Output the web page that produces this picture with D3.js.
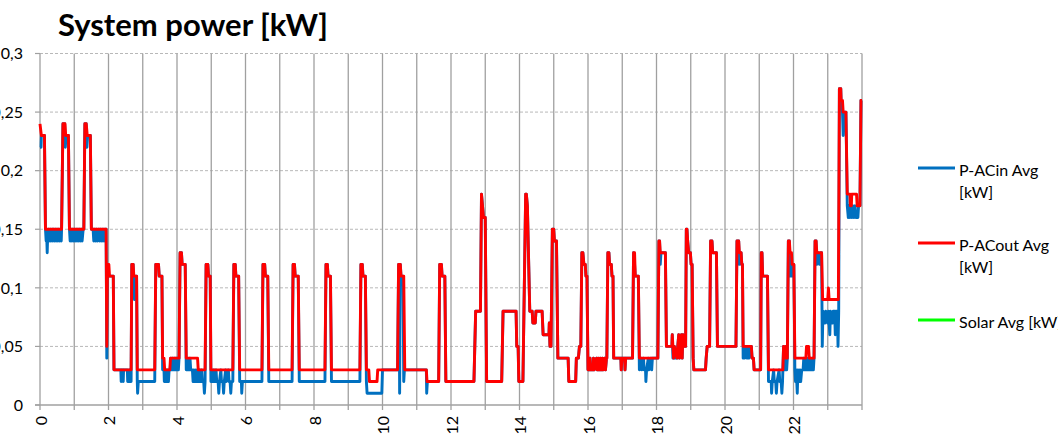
<!DOCTYPE html>
<html><head><meta charset="utf-8">
<script src="https://cdn.jsdelivr.net/npm/d3@7"></script>
<style>html,body{margin:0;padding:0;background:#fff;overflow:hidden}</style>
</head><body><svg id="c" width="1058" height="437"></svg>
<script>
const chartTitle = "System power [kW]";
const legendLines = [["P-ACin Avg", "[kW]"], ["P-ACout Avg", "[kW]"], ["Solar Avg [kW]"]];
const seriesColors = ["#0070C0", "#FF0000", "#00FF00"];
const yTicks = [0, 0.05, 0.1, 0.15, 0.2, 0.25, 0.3];
const yTickLabels = ["0", "0,05", "0,1", "0,15", "0,2", "0,25", "0,3"];
const xGridHours = [0,1,2,3,4,5,6,7,8,9,10,11,12,13,14,15,16,17,18,19,20,21,22,23,24];
const xTickHours = [0,2,4,6,8,10,12,14,16,18,20,22];
const xTickLabels = ["0","2","4","6","8","10","12","14","16","18","20","22"];

// P-ACout Avg [kW]  [hour, kW]
const pAcOut = [
[0.00,0.24],[0.04,0.23],[0.13,0.23],[0.16,0.15],
[0.63,0.15],[0.67,0.24],[0.73,0.24],[0.75,0.23],[0.83,0.23],[0.86,0.15],
[1.28,0.15],[1.31,0.24],[1.35,0.24],[1.38,0.23],[1.47,0.23],[1.50,0.15],
[1.93,0.15],[1.95,0.05],[1.97,0.12],[2.01,0.12],[2.03,0.11],[2.14,0.11],[2.16,0.03],
[2.66,0.03],[2.68,0.12],[2.72,0.12],[2.74,0.11],[2.82,0.11],[2.84,0.03],
[3.35,0.03],[3.38,0.12],[3.46,0.12],[3.48,0.11],[3.56,0.11],[3.58,0.04],[3.62,0.04],[3.64,0.03],[3.79,0.03],[3.81,0.04],
[4.06,0.04],[4.09,0.13],[4.13,0.13],[4.15,0.12],[4.24,0.12],[4.27,0.04],[4.60,0.04],[4.62,0.03],
[4.82,0.03],[4.85,0.12],[4.90,0.12],[4.92,0.11],[4.97,0.11],[4.99,0.03],
[5.63,0.03],[5.66,0.12],[5.70,0.12],[5.72,0.11],[5.80,0.11],[5.83,0.03],
[6.48,0.03],[6.51,0.12],[6.56,0.12],[6.58,0.11],[6.65,0.11],[6.68,0.03],
[7.36,0.03],[7.39,0.12],[7.43,0.12],[7.45,0.11],[7.54,0.11],[7.57,0.03],
[8.32,0.03],[8.35,0.12],[8.39,0.12],[8.41,0.11],[8.48,0.11],[8.51,0.03],
[9.34,0.03],[9.37,0.12],[9.41,0.12],[9.43,0.11],[9.50,0.11],[9.53,0.03],[9.60,0.03],[9.62,0.02],[9.84,0.02],[9.86,0.03],
[10.44,0.03],[10.47,0.12],[10.52,0.12],[10.54,0.11],[10.62,0.11],[10.65,0.03],
[11.28,0.03],[11.30,0.02],[11.64,0.02],[11.67,0.12],[11.72,0.12],[11.74,0.11],[11.82,0.11],[11.85,0.02],
[12.67,0.02],[12.72,0.08],[12.86,0.08],[12.89,0.18],[12.92,0.17],[12.95,0.16],[13.00,0.16],[13.04,0.02],
[13.48,0.02],[13.52,0.08],[13.90,0.08],[13.92,0.05],[13.96,0.05],[13.98,0.02],
[14.10,0.02],[14.18,0.18],[14.20,0.18],[14.23,0.17],[14.30,0.08],[14.37,0.08],[14.39,0.07],[14.46,0.07],[14.48,0.08],
[14.66,0.08],[14.69,0.06],[14.86,0.06],[14.87,0.07],[14.89,0.05],[14.92,0.05],[14.96,0.15],[15.00,0.15],[15.02,0.14],[15.08,0.14],[15.12,0.04],
[15.42,0.04],[15.44,0.02],[15.64,0.02],[15.66,0.04],[15.72,0.04],[15.75,0.05],[15.79,0.05],[15.82,0.13],[15.85,0.13],[15.88,0.12],[15.92,0.12],[15.94,0.11],[15.97,0.11],[16.00,0.03],
[16.05,0.03],[16.06,0.04],[16.08,0.03],[16.15,0.03],[16.16,0.04],[16.18,0.03],[16.25,0.04],[16.27,0.03],[16.30,0.04],[16.32,0.03],[16.36,0.04],[16.38,0.03],[16.42,0.04],[16.44,0.03],[16.49,0.04],[16.51,0.03],[16.54,0.04],
[16.55,0.04],[16.58,0.13],[16.61,0.13],[16.63,0.12],[16.68,0.12],[16.70,0.11],[16.73,0.11],[16.75,0.04],[16.96,0.04],[16.97,0.03],[16.99,0.04],[17.07,0.04],[17.08,0.03],[17.10,0.04],
[17.30,0.04],[17.33,0.13],[17.36,0.13],[17.38,0.11],[17.47,0.11],[17.50,0.04],
[18.04,0.04],[18.07,0.14],[18.09,0.14],[18.11,0.13],[18.26,0.13],[18.29,0.05],
[18.45,0.05],[18.46,0.06],[18.48,0.05],[18.50,0.04],[18.52,0.05],[18.60,0.04],[18.62,0.05],[18.65,0.06],[18.67,0.04],[18.70,0.05],[18.73,0.06],[18.75,0.04],[18.77,0.06],[18.80,0.05],
[18.85,0.05],[18.87,0.15],[18.89,0.15],[18.91,0.14],[18.94,0.13],[18.99,0.13],[19.01,0.12],[19.04,0.12],[19.07,0.04],[19.09,0.03],
[19.43,0.03],[19.45,0.04],[19.48,0.05],[19.55,0.05],[19.58,0.14],[19.62,0.14],[19.64,0.13],[19.75,0.13],[19.78,0.05],
[20.32,0.05],[20.35,0.14],[20.40,0.14],[20.42,0.13],[20.47,0.13],[20.49,0.12],[20.51,0.12],[20.53,0.05],[20.77,0.05],[20.79,0.04],[20.83,0.04],[20.85,0.03],
[21.04,0.03],[21.06,0.13],[21.08,0.13],[21.10,0.11],[21.24,0.11],[21.27,0.03],
[21.69,0.03],[21.71,0.05],[21.72,0.04],[21.76,0.04],[21.78,0.05],[21.80,0.04],[21.82,0.04],
[21.85,0.14],[21.88,0.14],[21.90,0.13],[21.94,0.13],[21.96,0.12],[22.01,0.12],[22.04,0.04],
[22.36,0.04],[22.38,0.05],[22.44,0.05],[22.46,0.04],[22.60,0.04],[22.63,0.14],[22.66,0.14],[22.68,0.13],[22.82,0.13],[22.85,0.09],
[23.00,0.09],[23.02,0.10],[23.04,0.09],[23.31,0.09],[23.34,0.27],[23.38,0.27],[23.39,0.26],[23.43,0.26],[23.45,0.25],[23.53,0.25],[23.57,0.18],
[23.65,0.18],[23.66,0.17],[23.69,0.17],[23.70,0.18],[23.84,0.18],[23.86,0.17],[23.94,0.17],[23.97,0.26],[24.00,0.26]
];

// P-ACin Avg [kW]  [hour, kW]
const pAcIn = [
[0.00,0.22],[0.03,0.22],[0.04,0.23],[0.13,0.23],[0.16,0.15],[0.18,0.14],[0.20,0.14],[0.21,0.13],[0.22,0.14],[0.25,0.15],[0.26,0.14],[0.30,0.15],[0.31,0.14],
[0.36,0.15],[0.37,0.14],[0.40,0.15],[0.42,0.14],[0.45,0.15],[0.47,0.14],[0.50,0.15],[0.52,0.14],[0.55,0.15],[0.57,0.14],[0.60,0.15],[0.62,0.14],
[0.63,0.15],[0.67,0.24],[0.72,0.24],[0.74,0.22],[0.76,0.23],[0.83,0.23],[0.86,0.15],[0.88,0.14],[0.91,0.15],[0.93,0.14],[0.96,0.15],[0.98,0.14],
[1.01,0.15],[1.03,0.14],[1.06,0.15],[1.08,0.14],[1.11,0.15],[1.13,0.14],[1.16,0.15],[1.18,0.14],[1.21,0.15],[1.23,0.14],[1.26,0.15],
[1.28,0.15],[1.31,0.24],[1.35,0.24],[1.37,0.22],[1.39,0.23],[1.47,0.23],[1.50,0.15],[1.55,0.15],[1.57,0.14],[1.60,0.15],[1.62,0.14],[1.65,0.15],[1.67,0.14],
[1.72,0.15],[1.74,0.14],[1.77,0.15],[1.79,0.14],[1.82,0.15],[1.84,0.14],[1.87,0.15],[1.89,0.14],[1.91,0.15],
[1.93,0.15],[1.95,0.04],[1.97,0.11],[2.03,0.11],[2.14,0.11],[2.16,0.03],
[2.36,0.03],[2.37,0.02],[2.38,0.03],[2.42,0.03],[2.43,0.02],[2.44,0.03],[2.55,0.03],[2.56,0.02],[2.60,0.02],[2.61,0.03],[2.63,0.02],[2.66,0.02],
[2.68,0.12],[2.72,0.12],[2.74,0.10],[2.76,0.09],[2.78,0.11],[2.82,0.11],[2.84,0.02],[2.85,0.01],[2.87,0.02],
[3.35,0.02],[3.38,0.12],[3.46,0.12],[3.48,0.11],[3.56,0.11],[3.58,0.03],[3.62,0.03],[3.63,0.02],[3.65,0.03],[3.67,0.02],[3.69,0.03],[3.71,0.02],[3.73,0.03],[3.75,0.02],[3.77,0.03],
[3.80,0.03],[3.82,0.04],[3.84,0.03],[3.87,0.04],[3.90,0.03],[3.92,0.04],[3.95,0.03],[3.97,0.04],[4.00,0.03],[4.02,0.04],[4.04,0.03],[4.06,0.04],
[4.09,0.13],[4.13,0.13],[4.15,0.12],[4.24,0.12],[4.27,0.03],[4.30,0.04],[4.32,0.03],[4.36,0.03],[4.38,0.04],[4.40,0.03],[4.45,0.03],[4.47,0.02],[4.49,0.03],
[4.53,0.02],[4.55,0.03],[4.58,0.02],[4.60,0.03],[4.62,0.02],[4.66,0.03],[4.68,0.02],[4.72,0.03],[4.74,0.02],[4.78,0.02],[4.80,0.01],[4.82,0.02],
[4.85,0.12],[4.90,0.12],[4.92,0.11],[4.97,0.11],[4.99,0.02],[5.02,0.03],[5.05,0.02],[5.08,0.03],[5.10,0.02],[5.14,0.03],[5.16,0.02],[5.20,0.02],[5.22,0.01],[5.24,0.02],
[5.28,0.03],[5.30,0.02],[5.34,0.02],[5.36,0.01],[5.38,0.02],[5.42,0.03],[5.44,0.02],[5.50,0.03],[5.52,0.02],[5.55,0.02],[5.57,0.01],[5.59,0.02],
[5.63,0.02],[5.66,0.12],[5.70,0.12],[5.72,0.11],[5.80,0.11],[5.83,0.02],[5.88,0.02],[5.89,0.01],[5.91,0.02],
[6.48,0.02],[6.51,0.12],[6.56,0.12],[6.58,0.11],[6.65,0.11],[6.68,0.02],
[7.36,0.02],[7.39,0.12],[7.43,0.12],[7.45,0.11],[7.54,0.11],[7.57,0.02],
[8.32,0.02],[8.35,0.12],[8.39,0.12],[8.41,0.11],[8.48,0.11],[8.51,0.02],
[9.34,0.02],[9.37,0.12],[9.41,0.12],[9.43,0.11],[9.50,0.11],[9.53,0.02],[9.55,0.01],[9.98,0.01],[10.00,0.03],
[10.44,0.03],[10.47,0.12],[10.49,0.09],[10.50,0.01],[10.52,0.12],[10.54,0.11],[10.60,0.11],[10.62,0.02],[10.64,0.03],
[11.28,0.03],[11.29,0.01],[11.31,0.02],[11.64,0.02],[11.67,0.12],[11.72,0.12],[11.74,0.11],[11.82,0.11],[11.85,0.02],
[12.67,0.02],[12.72,0.08],[12.86,0.08],[12.89,0.18],[12.92,0.17],[12.95,0.16],[13.00,0.16],[13.04,0.02],
[13.48,0.02],[13.52,0.08],[13.90,0.08],[13.92,0.05],[13.96,0.05],[13.98,0.02],
[14.10,0.02],[14.18,0.18],[14.20,0.18],[14.23,0.17],[14.30,0.08],[14.37,0.08],[14.39,0.07],[14.46,0.07],[14.48,0.08],
[14.66,0.08],[14.69,0.06],[14.86,0.06],[14.87,0.07],[14.89,0.05],[14.92,0.05],[14.96,0.15],[15.00,0.15],[15.02,0.14],[15.08,0.14],[15.12,0.04],
[15.42,0.04],[15.44,0.02],[15.64,0.02],[15.66,0.04],[15.72,0.04],[15.75,0.05],[15.79,0.05],[15.82,0.13],[15.85,0.13],[15.88,0.12],[15.92,0.12],[15.94,0.11],[15.97,0.11],[16.00,0.03],
[16.05,0.03],[16.06,0.04],[16.08,0.03],[16.15,0.03],[16.16,0.04],[16.18,0.03],[16.25,0.04],[16.27,0.03],[16.30,0.04],[16.32,0.03],[16.36,0.04],[16.38,0.03],[16.42,0.04],[16.44,0.03],[16.49,0.04],[16.51,0.03],[16.54,0.04],
[16.55,0.04],[16.58,0.13],[16.61,0.13],[16.63,0.12],[16.68,0.12],[16.70,0.11],[16.73,0.11],[16.75,0.04],[16.96,0.04],[16.97,0.03],[16.99,0.04],[17.07,0.04],[17.08,0.03],[17.10,0.04],
[17.30,0.04],[17.33,0.13],[17.36,0.12],[17.38,0.11],[17.47,0.11],[17.50,0.03],[17.55,0.04],[17.57,0.03],[17.62,0.04],[17.64,0.03],[17.68,0.03],[17.69,0.02],[17.71,0.03],
[17.76,0.04],[17.78,0.03],[17.84,0.04],[17.86,0.03],[17.88,0.04],[18.04,0.04],[18.07,0.14],[18.09,0.14],[18.11,0.12],[18.13,0.13],[18.26,0.13],[18.29,0.05],
[18.45,0.05],[18.46,0.06],[18.48,0.04],[18.50,0.04],[18.52,0.05],[18.56,0.04],[18.60,0.04],[18.62,0.05],[18.65,0.06],[18.67,0.04],[18.70,0.05],[18.73,0.06],[18.75,0.04],[18.77,0.06],[18.80,0.05],
[18.85,0.05],[18.87,0.15],[18.89,0.15],[18.91,0.14],[18.94,0.13],[18.99,0.13],[19.01,0.12],[19.04,0.12],[19.07,0.04],[19.09,0.03],
[19.43,0.03],[19.45,0.04],[19.48,0.05],[19.55,0.05],[19.58,0.14],[19.62,0.14],[19.64,0.13],[19.75,0.13],[19.78,0.05],
[20.32,0.05],[20.35,0.14],[20.40,0.14],[20.42,0.12],[20.47,0.13],[20.49,0.12],[20.51,0.12],[20.53,0.04],[20.55,0.05],[20.57,0.04],[20.62,0.05],[20.64,0.04],[20.68,0.05],[20.70,0.04],[20.74,0.05],
[20.77,0.05],[20.79,0.04],[20.83,0.04],[20.85,0.03],[21.04,0.03],[21.06,0.13],[21.08,0.13],[21.10,0.11],[21.24,0.11],[21.27,0.02],
[21.35,0.02],[21.36,0.01],[21.38,0.02],[21.42,0.03],[21.44,0.02],[21.48,0.02],[21.50,0.01],[21.52,0.02],[21.58,0.03],[21.60,0.02],[21.64,0.02],[21.66,0.01],[21.68,0.02],
[21.71,0.05],[21.72,0.03],[21.76,0.03],[21.78,0.05],[21.80,0.03],[21.82,0.04],[21.85,0.14],[21.88,0.14],[21.90,0.11],[21.94,0.12],[21.96,0.11],[22.01,0.12],[22.04,0.03],
[22.06,0.02],[22.08,0.03],[22.11,0.01],[22.13,0.03],[22.16,0.02],[22.19,0.03],[22.21,0.02],[22.24,0.03],[22.28,0.03],[22.30,0.04],[22.32,0.03],[22.36,0.03],[22.38,0.04],
[22.41,0.03],[22.44,0.04],[22.46,0.03],[22.50,0.04],[22.52,0.03],[22.56,0.04],[22.58,0.03],[22.60,0.04],[22.63,0.14],[22.66,0.14],[22.68,0.12],[22.72,0.13],[22.76,0.12],[22.80,0.13],[22.82,0.13],
[22.84,0.05],[22.86,0.08],[22.92,0.07],[22.94,0.08],[23.00,0.07],[23.02,0.08],[23.06,0.06],[23.08,0.08],[23.14,0.07],[23.16,0.08],[23.20,0.08],[23.22,0.06],[23.24,0.08],[23.28,0.08],[23.30,0.05],[23.32,0.08],
[23.34,0.27],[23.38,0.27],[23.39,0.26],[23.43,0.25],[23.45,0.23],[23.47,0.25],[23.53,0.25],[23.57,0.17],[23.60,0.16],[23.62,0.17],[23.64,0.16],[23.68,0.17],[23.70,0.16],[23.74,0.17],[23.76,0.16],
[23.80,0.17],[23.82,0.16],[23.88,0.16],[23.90,0.17],[23.94,0.17],[23.97,0.26],[24.00,0.26]
];

// Solar Avg [kW] : no recorded values
const solar = [];

const svg = d3.select("#c");
const font = "Lato, 'Open Sans', sans-serif";
svg.append("rect").attr("width", 1058).attr("height", 437).attr("fill", "#fff");

const x = d3.scaleLinear().domain([0, 24]).range([40, 862]);
const y = d3.scaleLinear().domain([0, 0.3]).range([405, 53.5]);

// horizontal gridlines
svg.append("g").selectAll("line").data(yTicks.filter(d => d > 0)).join("line")
  .attr("x1", x(0)).attr("x2", x(24)).attr("y1", d => y(d)).attr("y2", d => y(d))
  .attr("stroke", "#B8B8B8").attr("stroke-width", 1).attr("stroke-dasharray", "3,2");

// vertical gridlines (with tick extension below axis)
svg.append("g").selectAll("line").data(xGridHours).join("line")
  .attr("x1", d => x(d)).attr("x2", d => x(d)).attr("y1", y(0.3)).attr("y2", y(0) + 5)
  .attr("stroke", "#A0A0A0").attr("stroke-width", 1.3);

// y tick marks
svg.append("g").selectAll("line").data(yTicks).join("line")
  .attr("x1", x(0) - 5).attr("x2", x(0)).attr("y1", d => y(d)).attr("y2", d => y(d))
  .attr("stroke", "#A0A0A0").attr("stroke-width", 1.2);

// x axis line
svg.append("line").attr("x1", x(0) - 5).attr("x2", x(24)).attr("y1", y(0)).attr("y2", y(0))
  .attr("stroke", "#A0A0A0").attr("stroke-width", 1.3);

const line = d3.line().x(d => x(d[0])).y(d => y(d[1]));
[[pAcIn, seriesColors[0]], [pAcOut, seriesColors[1]], [solar, seriesColors[2]]].forEach(([data, col]) => {
  if (!data.length) return;
  svg.append("path").datum(data).attr("d", line).attr("fill", "none")
    .attr("stroke", col).attr("stroke-width", 2.9).attr("stroke-linejoin", "round");
});

// y labels
svg.append("g").selectAll("text").data(yTicks).join("text")
  .attr("x", 23).attr("y", d => y(d)).attr("dy", "0.36em").attr("text-anchor", "end")
  .attr("font-family", font).attr("font-size", 16).attr("fill", "#000")
  .text((d, i) => yTickLabels[i]);

// x labels (rotated)
svg.append("g").selectAll("text").data(xTickHours).join("text")
  .attr("transform", d => `translate(${x(d) + 1},416) rotate(-90)`)
  .attr("dy", "0.36em").attr("text-anchor", "end")
  .attr("font-family", font).attr("font-size", 16).attr("fill", "#000")
  .text((d, i) => xTickLabels[i]);

// title
svg.append("text").attr("x", 58).attr("y", 36).attr("font-family", font)
  .attr("font-size", 31).attr("font-weight", "bold").attr("fill", "#000").text(chartTitle);

// legend
const legendY = [168, 243, 320];
legendLines.forEach((lines, i) => {
  const g = svg.append("g");
  g.append("line").attr("x1", 918).attr("x2", 955).attr("y1", legendY[i]).attr("y2", legendY[i])
    .attr("stroke", seriesColors[i]).attr("stroke-width", 2.8);
  lines.forEach((t, j) => {
    g.append("text").attr("x", 959).attr("y", legendY[i] + 8 + j * 21.5)
      .attr("font-family", font).attr("font-size", 16).attr("fill", "#000").text(t);
  });
});
</script></body></html>
